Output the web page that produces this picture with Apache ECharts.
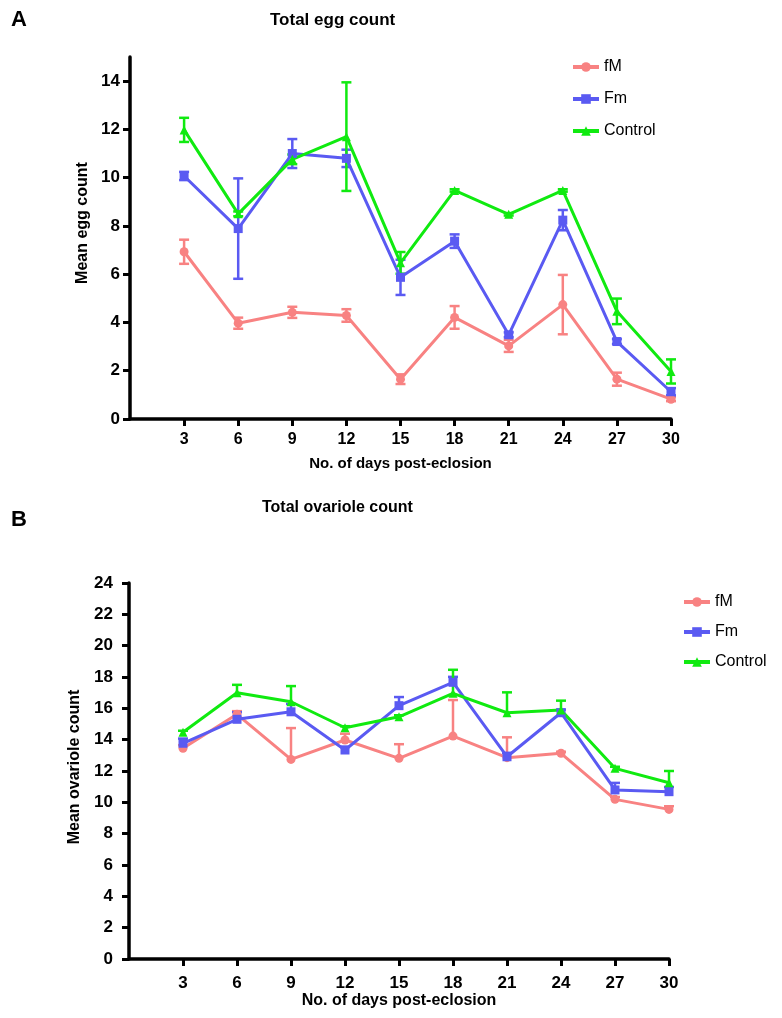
<!DOCTYPE html>
<html>
<head>
<meta charset="utf-8">
<script src="https://cdn.jsdelivr.net/npm/echarts@6/dist/echarts.min.js"></script>
<style>
  html, body { margin: 0; padding: 0; background: #fff; }
  #chart { width: 782px; height: 1018px; }
</style>
</head>
<body>
<div id="chart"></div>
<script>
// days post-eclosion
const days = [3, 6, 9, 12, 15, 18, 21, 24, 27, 30];
const yTicksEgg = [0, 2, 4, 6, 8, 10, 12, 14];
const yTicksOva = [0, 2, 4, 6, 8, 10, 12, 14, 16, 18, 20, 22, 24];

// A: total egg count (mean, error)
const eggFM = [6.93, 3.97, 4.42, 4.29, 1.65, 4.21, 3.03, 4.74, 1.65, 0.82];
const eggFMErr = [0.5, 0.23, 0.23, 0.26, 0.2, 0.47, 0.25, 1.23, 0.27, 0.08];
const eggFm = [10.07, 7.89, 11.0, 10.8, 5.87, 7.37, 3.49, 8.24, 3.21, 1.13];
const eggFmErr = [0.17, 2.08, 0.6, 0.36, 0.73, 0.28, 0.1, 0.42, 0.1, 0.15];
const eggCtrl = [11.98, 8.5, 10.76, 11.7, 6.47, 9.47, 8.48, 9.47, 4.46, 1.97];
const eggCtrlErr = [0.5, 0.1, 0.2, 2.25, 0.45, 0.05, 0.05, 0.05, 0.53, 0.5];

// B: total ovariole count (mean, upper error)
const ovaFM = [13.45, 15.62, 12.74, 13.98, 12.81, 14.23, 12.85, 13.13, 10.19, 9.55];
const ovaFMErr = [0.2, 0.2, 2.0, 0.4, 0.9, 2.3, 1.3, 0.1, 0.15, 0.2];
const ovaFm = [13.77, 15.3, 15.78, 13.34, 16.17, 17.66, 12.91, 15.72, 10.79, 10.68];
const ovaFmErr = [0.3, 0.45, 0.5, 0.2, 0.55, 0.35, 0.25, 0.2, 0.45, 0.3];
const ovaCtrl = [14.47, 17.0, 16.42, 14.76, 15.46, 16.96, 15.72, 15.89, 12.17, 11.25];
const ovaCtrlErr = [0.1, 0.5, 1.0, 0.1, 0.1, 1.5, 1.3, 0.6, 0.1, 0.75];

const names = ["fM", "Fm", "Control"];
const colors = ["#f88282", "#5a5af2", "#10ea10"];
const symbols = ["circle", "rect", "triangle"];
const FONT = "Liberation Sans, Arial, sans-serif";

function pairs(vals) {
  return days.map((d, i) => [d, vals[i]]);
}
function errPairs(vals, errs) {
  return days.map((d, i) => [d, vals[i], errs[i]]);
}

// error bars go through the axis scales with api.coord
function errorBars(idx, grid, vals, errs, upperOnly) {
  return {
    type: "custom",
    name: names[idx] + " error",
    xAxisIndex: grid,
    yAxisIndex: grid,
    z: 1,
    silent: true,
    data: errPairs(vals, errs),
    renderItem: function (params, api) {
      const x = api.value(0);
      const v = api.value(1);
      const e = api.value(2);
      const top = api.coord([x, v + e]);
      const bot = api.coord([x, upperOnly ? v : v - e]);
      const w = 5;
      const style = { stroke: colors[idx], lineWidth: 2.5 };
      const kids = [
        { type: "line", shape: { x1: top[0], y1: top[1], x2: bot[0], y2: bot[1] }, style },
        { type: "line", shape: { x1: top[0] - w, y1: top[1], x2: top[0] + w, y2: top[1] }, style },
      ];
      if (!upperOnly) {
        kids.push({ type: "line", shape: { x1: bot[0] - w, y1: bot[1], x2: bot[0] + w, y2: bot[1] }, style });
      }
      return { type: "group", children: kids };
    },
  };
}

function lineSeries(idx, grid, vals) {
  return {
    type: "line",
    name: names[idx],
    xAxisIndex: grid,
    yAxisIndex: grid,
    z: 2,
    data: pairs(vals),
    symbol: symbols[idx],
    symbolSize: 9,
    itemStyle: { color: colors[idx] },
    lineStyle: { color: colors[idx], width: 3 },
  };
}

function xAxisCfg(grid, labelSize, nameSize, labelMargin, nameGap) {
  return {
    type: "value",
    gridIndex: grid,
    min: 0,
    max: 30,
    interval: 3,
    name: "No. of days post-eclosion",
    nameLocation: "middle",
    nameGap: nameGap,
    nameTextStyle: { fontFamily: FONT, fontWeight: "bold", fontSize: nameSize, color: "#000" },
    axisLine: { lineStyle: { color: "#000", width: 3.5 } },
    axisTick: { customValues: days, length: 7, lineStyle: { color: "#000", width: 3 } },
    axisLabel: {
      customValues: days,
      margin: labelMargin,
      fontFamily: FONT,
      fontWeight: "bold",
      fontSize: labelSize,
      color: "#000",
    },
    splitLine: { show: false },
  };
}

function yAxisCfg(grid, max, ticks, name, labelSize, nameSize, labelMargin, nameGap, namePad) {
  return {
    type: "value",
    gridIndex: grid,
    min: 0,
    max: max,
    interval: 2,
    name: name,
    nameLocation: "middle",
    nameRotate: 90,
    nameGap: nameGap,
    nameTextStyle: {
      fontFamily: FONT,
      fontWeight: "bold",
      fontSize: nameSize,
      color: "#000",
      padding: namePad,
    },
    axisLine: { show: true, lineStyle: { color: "#000", width: 3.5 } },
    axisTick: { show: true, customValues: ticks, length: 7, lineStyle: { color: "#000", width: 3 } },
    axisLabel: {
      customValues: ticks,
      margin: labelMargin,
      fontFamily: FONT,
      fontWeight: "bold",
      fontSize: labelSize,
      color: "#000",
    },
    splitLine: { show: false },
  };
}

const chart = echarts.init(document.getElementById("chart"), null, { renderer: "canvas" });

const legendBase = {
  data: names,
  orient: "vertical",
  itemWidth: 26,
  itemHeight: 12,
  lineStyle: { width: 4 },
  textStyle: { fontFamily: FONT, fontSize: 16, color: "#000" },
  selectedMode: false,
};

chart.setOption({
  backgroundColor: "#fff",
  animation: false,
  title: [
    { text: "A", left: 6, top: 4, textStyle: { fontFamily: FONT, fontWeight: "bold", fontSize: 22, color: "#000" } },
    { text: "Total egg count", left: 265, top: 7, textStyle: { fontFamily: FONT, fontWeight: "bold", fontSize: 17, color: "#000" } },
    { text: "B", left: 6, top: 504, textStyle: { fontFamily: FONT, fontWeight: "bold", fontSize: 22, color: "#000" } },
    { text: "Total ovariole count", left: 257, top: 495, textStyle: { fontFamily: FONT, fontWeight: "bold", fontSize: 16, color: "#000" } },
  ],
  legend: [
    Object.assign({}, legendBase, { left: 566, top: 54, itemGap: 16 }),
    Object.assign({}, legendBase, { left: 677, top: 589, itemGap: 14 }),
  ],
  grid: [
    { left: 130, top: 57, width: 541, height: 362 },
    { left: 129, top: 583, width: 540, height: 376 },
  ],
  xAxis: [xAxisCfg(0, 16, 15, 13, 37), xAxisCfg(1, 17, 16, 16, 34)],
  yAxis: [
    yAxisCfg(0, 15, yTicksEgg, "Mean egg count", 17, 16, 10, 34, [0, 0, 0, 30]),
    yAxisCfg(1, 24, yTicksOva, "Mean ovariole count", 17, 16, 16, 46, [0, 0, 0, 8]),
  ],
  series: [
    lineSeries(0, 0, eggFM),
    lineSeries(1, 0, eggFm),
    lineSeries(2, 0, eggCtrl),
    errorBars(0, 0, eggFM, eggFMErr, false),
    errorBars(1, 0, eggFm, eggFmErr, false),
    errorBars(2, 0, eggCtrl, eggCtrlErr, false),
    lineSeries(0, 1, ovaFM),
    lineSeries(1, 1, ovaFm),
    lineSeries(2, 1, ovaCtrl),
    errorBars(0, 1, ovaFM, ovaFMErr, true),
    errorBars(1, 1, ovaFm, ovaFmErr, true),
    errorBars(2, 1, ovaCtrl, ovaCtrlErr, true),
  ],
});
</script>
</body>
</html>
